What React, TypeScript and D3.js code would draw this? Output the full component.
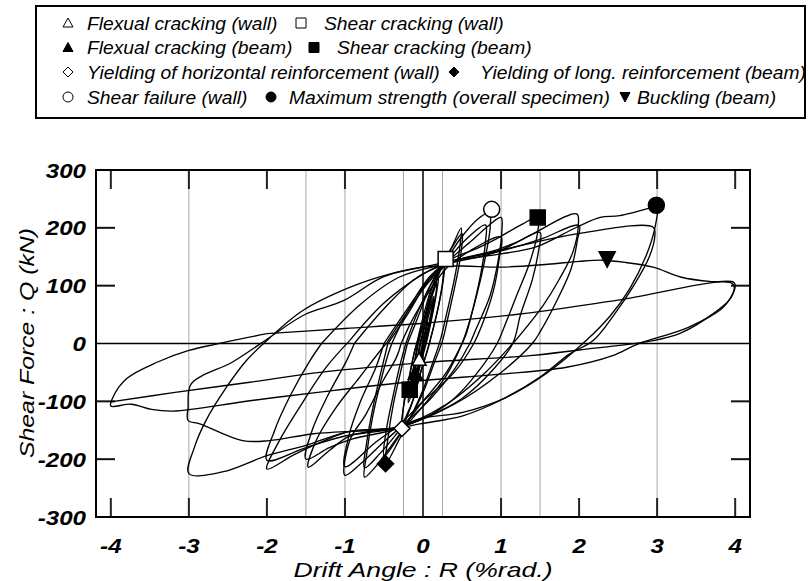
import React from 'react';
import * as d3 from 'd3';

const W = 808;
const H = 581;

// axis ticks
const X_TICKS = [-4, -3, -2, -1, 0, 1, 2, 3, 4];
const Y_TICKS = [-300, -200, -100, 0, 100, 200, 300];
const Y_INNER_TICKS = [-200, -100, 100, 200];
const GRID_X = [-3, -1.5, -1, -0.25, 0.25, 1, 1.5, 3];

// hysteresis cycles: [drift angle R (%rad.), shear force Q (kN)]
const cycleA = [[0, 0], [0.03, 18], [0.06, 35], [0.04, 22], [0.0, 2], [-0.03, -15], [-0.06, -32], [-0.04, -20], [-0.01, -2]];
const cycleB = [[-0.01, -2], [0.04, 30], [0.09, 58], [0.13, 75], [0.1, 50], [0.05, 20], [0, -5], [-0.05, -30], [-0.1, -55], [-0.14, -72], [-0.11, -50], [-0.06, -20], [-0.03, 0]];
const cycleB2 = [[-0.03, 0], [0.02, 28], [0.08, 60], [0.14, 82], [0.11, 55], [0.06, 22], [0.01, -3], [-0.05, -35], [-0.11, -62], [-0.15, -80], [-0.12, -55], [-0.07, -22], [-0.04, 0]];
const cycleC = [[-0.04, 0], [0.03, 35], [0.1, 75], [0.18, 105], [0.15, 75], [0.09, 35], [0.03, 0], [-0.03, -30], [-0.1, -65], [-0.18, -95], [-0.15, -65], [-0.1, -30], [-0.06, 0]];
const cycleC2 = [[-0.06, 0], [0.02, 40], [0.11, 82], [0.2, 115], [0.17, 85], [0.11, 42], [0.05, 5], [-0.02, -30], [-0.1, -70], [-0.19, -102], [-0.16, -70], [-0.11, -32], [-0.07, 0]];
const cycle025a = [[-0.07, 0], [0.02, 45], [0.1, 90], [0.2, 125], [0.28, 145], [0.26, 110], [0.2, 65], [0.12, 20], [0.06, -10], [-0.02, -45], [-0.12, -95], [-0.2, -125], [-0.27, -147], [-0.25, -110], [-0.18, -60], [-0.12, -20], [-0.08, 0]];
const cycle025b = [[-0.08, 0], [0.0, 45], [0.09, 88], [0.19, 120], [0.27, 140], [0.25, 105], [0.19, 60], [0.11, 15], [0.05, -15], [-0.03, -50], [-0.13, -98], [-0.21, -124], [-0.27, -140], [-0.24, -100], [-0.17, -55], [-0.11, -15], [-0.08, 0]];
const cycle05a = [[-0.08, 0], [0, 35], [0.12, 90], [0.25, 135], [0.38, 170], [0.49, 200], [0.47, 165], [0.4, 110], [0.3, 50], [0.22, 5], [0.12, -35], [0, -80], [-0.15, -125], [-0.3, -165], [-0.48, -208], [-0.45, -165], [-0.38, -105], [-0.28, -45], [-0.2, 0]];
const cycle05b = [[-0.2, 0], [-0.08, 40], [0.08, 95], [0.25, 138], [0.38, 168], [0.5, 190], [0.48, 150], [0.41, 100], [0.32, 45], [0.25, 5], [0.14, -35], [0.0, -85], [-0.17, -130], [-0.33, -165], [-0.5, -195], [-0.47, -150], [-0.39, -95], [-0.3, -40], [-0.22, 0]];
const cycle075a = [[-0.22, 0], [-0.05, 60], [0.15, 115], [0.3, 145], [0.5, 185], [0.7, 215], [0.85, 226], [0.86, 200], [0.8, 150], [0.7, 90], [0.6, 40], [0.5, 0], [0.3, -55], [0.05, -100], [-0.25, -148], [-0.45, -185], [-0.62, -215], [-0.75, -231], [-0.72, -190], [-0.65, -130], [-0.55, -70], [-0.45, -20], [-0.4, 0]];
const cycle075b = [[-0.4, 0], [-0.2, 55], [0.05, 110], [0.3, 143], [0.55, 180], [0.8, 205], [0.8, 175], [0.74, 120], [0.64, 60], [0.55, 15], [0.5, 0], [0.3, -50], [0.0, -100], [-0.3, -150], [-0.55, -190], [-0.75, -215], [-0.72, -170], [-0.64, -110], [-0.54, -50], [-0.45, 0]];
const cycle1a = [[-0.45, 0], [-0.2, 50], [0.05, 105], [0.3, 140], [0.6, 175], [0.85, 205], [1.0, 218], [1.01, 193], [0.96, 141], [0.86, 83], [0.68, 25], [0.6, 0], [0.4, -45], [0.1, -95], [-0.25, -140], [-0.5, -170], [-0.8, -208], [-1.0, -228], [-0.94, -168], [-0.73, -122], [-0.51, -64], [-0.34, -24], [-0.28, 0]];
const cycle1b = [[-0.28, 0], [-0.1, 50], [0.3, 130], [0.6, 160], [1.0, 184], [0.98, 150], [0.9, 90], [0.75, 30], [0.65, 0], [0.4, -50], [0, -100], [-0.3, -140], [-0.6, -170], [-1.0, -213], [-0.95, -160], [-0.8, -100], [-0.6, -40], [-0.5, 0]];
const cycle15a = [[-0.5, 0], [-0.2, 60], [0.1, 115], [0.35, 145], [0.7, 165], [0.94, 181], [1.28, 207], [1.47, 218], [1.47, 193], [1.37, 141], [1.2, 83], [1.03, 25], [0.95, 0], [0.7, -50], [0.4, -95], [0, -130], [-0.34, -145], [-0.94, -160], [-1.2, -185], [-1.47, -214], [-1.37, -168], [-1.11, -110], [-0.81, -58], [-0.51, -6], [-0.47, 0]];
const cycle15b = [[-0.47, 0], [-0.2, 55], [0.1, 110], [0.35, 140], [0.9, 160], [1.2, 175], [1.5, 192], [1.48, 160], [1.4, 110], [1.25, 50], [1.15, 0], [0.9, -45], [0.5, -95], [0, -130], [-0.4, -150], [-0.9, -165], [-1.2, -180], [-1.5, -200], [-1.42, -150], [-1.22, -90], [-0.98, -30], [-0.88, 0]];
const cycle2a = [[-0.88, 0], [-0.5, 60], [-0.1, 112], [0.25, 135], [0.94, 158], [1.37, 187], [1.97, 224], [1.99, 204], [1.92, 158], [1.75, 112], [1.54, 66], [1.24, 14], [1.15, 0], [0.8, -50], [0.3, -105], [-0.34, -145], [-0.94, -152], [-1.3, -170], [-1.65, -192], [-2.0, -217], [-1.84, -168], [-1.58, -110], [-1.24, -41], [-0.94, 5]];
const cycle2b = [[-0.94, 5], [-0.5, 70], [0, 120], [0.3, 140], [1.0, 160], [1.5, 180], [2.0, 204], [1.98, 180], [1.9, 130], [1.7, 70], [1.5, 20], [1.4, 0], [1.0, -50], [0.4, -105], [-0.3, -145], [-1.0, -160], [-1.5, -180], [-2.0, -202], [-1.9, -150], [-1.7, -90], [-1.45, -30], [-1.3, 0]];
const cycle3a = [[-1.3, 0], [-0.8, 68], [-0.3, 115], [0.2, 135], [0.5, 145], [1.0, 155], [1.45, 167], [1.97, 201], [2.27, 218], [2.52, 221], [2.95, 236], [3.0, 238], [2.97, 199], [2.86, 152], [2.65, 95], [2.4, 48], [2.09, 5], [1.58, -52], [1.07, -93], [0.51, -119], [-0.04, -130], [-0.34, -145], [-0.94, -152], [-1.5, -176], [-2.0, -194], [-2.57, -222], [-3.0, -225], [-2.93, -180], [-2.78, -133], [-2.52, -76], [-2.26, -29], [-2.0, 5]];
const cycle3b = [[-2.0, 5], [-1.54, 57], [-0.94, 97], [-0.43, 120], [0.21, 138], [0.98, 161], [1.99, 190], [2.95, 201], [2.97, 185], [2.9, 150], [2.7, 100], [2.45, 50], [2.18, 5], [1.88, -18], [1.5, -58], [0.98, -99], [0.51, -125], [-0.04, -139], [-0.4, -148], [-1.4, -156], [-1.97, -168], [-2.31, -168], [-2.86, -139], [-3.01, -133], [-3.01, -110], [-2.97, -70], [-2.44, -32], [-2.09, -1], [-1.84, 22]];
const cycle4a = [[-1.84, 22], [-1.5, 51], [-1.02, 74], [-0.51, 115], [0, 132], [0.5, 134], [1.0, 132], [1.6, 137], [2.0, 142], [2.3, 144], [2.6, 140], [2.95, 132], [3.3, 115], [3.7, 107], [3.98, 106], [4.0, 98], [3.85, 63], [3.4, 28], [2.75, -1], [2.43, -21], [1.84, -41], [1.0, -53], [0, -64], [-1.32, -84], [-2.22, -99], [-3.2, -117], [-3.48, -114], [-3.74, -105], [-4.0, -108], [-3.98, -95], [-3.8, -61], [-3.4, -32], [-3.0, -12], [-2.65, -1], [-2.0, 17]];
const cycle4b = [[-2.0, 17], [-1.0, 26], [0.0, 35], [1.24, 51], [2.5, 75], [3.97, 103], [3.95, 80], [3.7, 50], [3.3, 18], [2.95, 5], [2.2, -8], [1.37, -21], [0, -33], [-1.32, -50], [-2.22, -67], [-3.2, -85], [-4.0, -101]];

const CYCLES = [cycleA, cycleB, cycleB2, cycleC, cycleC2, cycle025a, cycle025b, cycle05a, cycle05b, cycle075a, cycle075b, cycle1a, cycle1b, cycle15a, cycle15b, cycle2a, cycle2b, cycle3a, cycle3b, cycle4a, cycle4b];

// event markers
const FLEX_CRACK_WALL = [[-0.05, -28]];
const SHEAR_CRACK_WALL = [[0.29, 146]];
const FLEX_CRACK_BEAM = [[-0.1, -52]];
const SHEAR_CRACK_BEAM = [[1.47, 218], [-0.17, -80]];
const YIELD_HORIZ_WALL = [[-0.27, -147]];
const YIELD_LONG_BEAM = [[-0.48, -208]];
const SHEAR_FAIL_WALL = [[0.88, 232]];
const MAX_STRENGTH = [[2.99, 239]];
const BUCKLING_BEAM = [[2.36, 146]];

const FONT = '"Liberation Sans", Arial, sans-serif';

type Shape = 'triUp' | 'triDown' | 'square' | 'diamond' | 'circle';

function shapePath(shape: Shape, s: number): string {
  const h = s / 2;
  const p = d3.path();
  if (shape === 'triUp') {
    p.moveTo(0, -h); p.lineTo(h, h * 0.8); p.lineTo(-h, h * 0.8); p.closePath();
  } else if (shape === 'triDown') {
    p.moveTo(-h, -h * 0.9); p.lineTo(h, -h * 0.9); p.lineTo(0, h); p.closePath();
  } else if (shape === 'square') {
    p.rect(-h, -h, s, s);
  } else if (shape === 'diamond') {
    p.moveTo(0, -h); p.lineTo(h, 0); p.lineTo(0, h); p.lineTo(-h, 0); p.closePath();
  } else {
    p.arc(0, 0, h, 0, Math.PI * 2);
  }
  return p.toString();
}

const MARKERS: { data: number[][]; shape: Shape; filled: boolean; size: number }[] = [
  { data: FLEX_CRACK_WALL, shape: 'triUp', filled: false, size: 14 },
  { data: FLEX_CRACK_BEAM, shape: 'triUp', filled: true, size: 14 },
  { data: SHEAR_CRACK_BEAM, shape: 'square', filled: true, size: 15 },
  { data: YIELD_HORIZ_WALL, shape: 'diamond', filled: false, size: 16 },
  { data: YIELD_LONG_BEAM, shape: 'diamond', filled: true, size: 16 },
  { data: SHEAR_CRACK_WALL, shape: 'square', filled: false, size: 15 },
  { data: SHEAR_FAIL_WALL, shape: 'circle', filled: false, size: 16 },
  { data: MAX_STRENGTH, shape: 'circle', filled: true, size: 16 },
  { data: BUCKLING_BEAM, shape: 'triDown', filled: true, size: 16 },
];

const LEGEND_ROWS: { shape: Shape; filled: boolean; label: string; sx: number; tx: number }[][] = [
  [
    { shape: 'triUp', filled: false, label: 'Flexual cracking (wall)', sx: 68, tx: 87 },
    { shape: 'square', filled: false, label: 'Shear cracking (wall)', sx: 301, tx: 324 },
  ],
  [
    { shape: 'triUp', filled: true, label: 'Flexual cracking (beam)', sx: 68, tx: 87 },
    { shape: 'square', filled: true, label: 'Shear cracking (beam)', sx: 314, tx: 337 },
  ],
  [
    { shape: 'diamond', filled: false, label: 'Yielding of horizontal reinforcement (wall)', sx: 68, tx: 87 },
    { shape: 'diamond', filled: true, label: 'Yielding of long. reinforcement (beam)', sx: 454, tx: 480 },
  ],
  [
    { shape: 'circle', filled: false, label: 'Shear failure (wall)', sx: 68, tx: 87 },
    { shape: 'circle', filled: true, label: 'Maximum strength (overall specimen)', sx: 271, tx: 289 },
    { shape: 'triDown', filled: true, label: 'Buckling (beam)', sx: 625, tx: 637 },
  ],
];
const LEGEND_ROW_Y = [23, 47.5, 72, 97];

export default function App() {
  const left = 96, right = 750, top = 170, bottom = 517;
  const x = d3.scaleLinear().domain([-4.19, 4.19]).range([left, right]);
  const y = d3.scaleLinear().domain([-300, 300]).range([bottom, top]);
  const line = d3
    .line<number[]>()
    .x((d) => x(d[0]))
    .y((d) => y(d[1]))
    .curve(d3.curveCatmullRom.alpha(0.5));

  const tickLen = 19;

  return (
    <svg width={W} height={H} style={{ position: 'absolute', left: 0, top: 0, background: '#fff' }}>
      <rect x={0} y={0} width={W} height={H} fill="#fff" />
      {/* Legend */}
      <rect x={36} y={6} width={769} height={112} fill="#fff" stroke="#000" strokeWidth={2} />
      {LEGEND_ROWS.map((row, ri) =>
        row.map((it, ii) => (
          <g key={`l${ri}-${ii}`}>
            <path
              d={shapePath(it.shape, 10)}
              transform={`translate(${it.sx},${LEGEND_ROW_Y[ri]})`}
              fill={it.filled ? '#000' : '#fff'}
              stroke="#000"
              strokeWidth={1}
            />
            <text
              transform={`translate(${it.tx},${LEGEND_ROW_Y[ri] + 6.5}) scale(1.07,1)`}
              fontFamily={FONT}
              fontStyle="italic"
              fontSize={18}
              fill="#000"
            >
              {it.label}
            </text>
          </g>
        ))
      )}

      {/* grid lines */}
      {GRID_X.map((g) => (
        <line key={`g${g}`} x1={x(g)} x2={x(g)} y1={top} y2={bottom} stroke="#a8a8a8" strokeWidth={1} />
      ))}
      {/* zero lines */}
      <line x1={x(0)} x2={x(0)} y1={top} y2={bottom} stroke="#000" strokeWidth={1.5} />
      <line x1={left} x2={right} y1={y(0)} y2={y(0)} stroke="#000" strokeWidth={1.5} />

      {/* ticks */}
      {X_TICKS.filter((t) => t !== 0).map((t) => (
        <g key={`xt${t}`}>
          <line x1={x(t)} x2={x(t)} y1={top} y2={top + tickLen} stroke="#222" strokeWidth={2} />
          <line x1={x(t)} x2={x(t)} y1={bottom} y2={bottom - tickLen} stroke="#222" strokeWidth={2} />
        </g>
      ))}
      {Y_INNER_TICKS.map((t) => (
        <g key={`yt${t}`}>
          <line x1={left} x2={left + tickLen} y1={y(t)} y2={y(t)} stroke="#111" strokeWidth={2} />
          <line x1={right} x2={right - tickLen} y1={y(t)} y2={y(t)} stroke="#111" strokeWidth={2} />
        </g>
      ))}

      {/* hysteresis curves */}
      <defs>
        <clipPath id="plotclip">
          <rect x={left} y={top} width={right - left} height={bottom - top} />
        </clipPath>
      </defs>
      <g clipPath="url(#plotclip)">
        {CYCLES.map((c, i) => (
          <path key={`c${i}`} d={line(c) || ''} fill="none" stroke="#000" strokeWidth={1.35} />
        ))}
      </g>

      {/* markers */}
      {MARKERS.map((m, mi) =>
        m.data.map((d, di) => (
          <path
            key={`m${mi}-${di}`}
            d={shapePath(m.shape, m.size)}
            transform={`translate(${x(d[0])},${y(d[1])})`}
            fill={m.filled ? '#000' : '#fff'}
            stroke="#000"
            strokeWidth={1.5}
          />
        ))
      )}

      {/* frame */}
      <rect x={left} y={top} width={right - left} height={bottom - top} fill="none" stroke="#000" strokeWidth={2} />

      {/* tick labels */}
      {Y_TICKS.map((t) => (
        <text
          key={`yl${t}`}
          transform={`translate(86,${y(t) + 7.5}) scale(1.15,1)`}
          textAnchor="end"
          fontFamily={FONT}
          fontWeight="bold"
          fontStyle="italic"
          fontSize={21}
          fill="#000"
        >
          {t}
        </text>
      ))}
      {X_TICKS.map((t) => (
        <text
          key={`xl${t}`}
          transform={`translate(${x(t)},553) scale(1.15,1)`}
          textAnchor="middle"
          fontFamily={FONT}
          fontWeight="bold"
          fontStyle="italic"
          fontSize={21}
          fill="#000"
        >
          {t}
        </text>
      ))}

      {/* axis titles */}
      <text
        x={423}
        y={577}
        textAnchor="middle"
        fontFamily={FONT}
        fontStyle="italic"
        fontSize={21}
        textLength={259}
        lengthAdjust="spacingAndGlyphs"
        fill="#000"
      >
        Drift Angle : R (%rad.)
      </text>
      <text
        transform={`translate(34,343) rotate(-90)`}
        textAnchor="middle"
        fontFamily={FONT}
        fontStyle="italic"
        fontSize={21}
        textLength={230}
        lengthAdjust="spacingAndGlyphs"
        fill="#000"
      >
        Shear Force : Q (kN)
      </text>
    </svg>
  );
}
